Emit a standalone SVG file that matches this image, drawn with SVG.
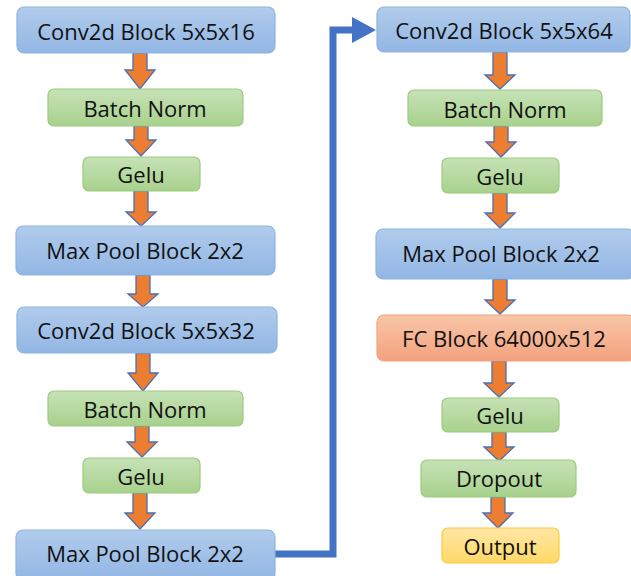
<svg xmlns="http://www.w3.org/2000/svg" width="631" height="576" viewBox="0 0 631 576">
<defs>
<linearGradient id="gBlue" x1="0" y1="0" x2="0" y2="1"><stop offset="0" stop-color="#B1CCEC"/><stop offset="1" stop-color="#92B6E4"/></linearGradient>
<linearGradient id="gGreen" x1="0" y1="0" x2="0" y2="1"><stop offset="0" stop-color="#C6E2B6"/><stop offset="1" stop-color="#A8D18D"/></linearGradient>
<linearGradient id="gSalmon" x1="0" y1="0" x2="0" y2="1"><stop offset="0" stop-color="#F8C6A8"/><stop offset="1" stop-color="#F3A27E"/></linearGradient>
<linearGradient id="gYellow" x1="0" y1="0" x2="0" y2="1"><stop offset="0" stop-color="#FFE7A6"/><stop offset="1" stop-color="#FFD966"/></linearGradient>
</defs>
<style>
.blue{fill:url(#gBlue);stroke:#8DB3E2;stroke-width:1.2}
.green{fill:url(#gGreen);stroke:#9CCB7D;stroke-width:1.2}
.salmon{fill:url(#gSalmon);stroke:#F2A47E;stroke-width:1.2}
.yellow{fill:url(#gYellow);stroke:#FFC83D;stroke-width:1.2}
text{font-family:"Open Sans","Noto Sans","DejaVu Sans",sans-serif;font-size:22px;fill:#111111;text-anchor:middle;dominant-baseline:central}
.arr{fill:#ED7D31;stroke:#4A6FB5;stroke-width:1.3;stroke-linejoin:miter}
</style>
<rect width="631" height="576" fill="#ffffff"/>
<g id="connectors">
<polygon class="arr" points="133,53 147,53 147,70 155,70 140,89 125,70 133,70"/>
<polygon class="arr" points="134,126 148,126 148,140 156,140 141,156 126,140 134,140"/>
<polygon class="arr" points="134,191 148,191 148,212 156,212 141,226 126,212 134,212"/>
<polygon class="arr" points="136,275 150,275 150,294 158,294 143,307 128,294 136,294"/>
<polygon class="arr" points="136,353 150,353 150,373 158,373 143,391 128,373 136,373"/>
<polygon class="arr" points="135,426 149,426 149,442 157,442 142,457 127,442 135,442"/>
<polygon class="arr" points="133,493 147,493 147,513 155,513 140,529 125,513 133,513"/>
<polygon class="arr" points="493,52 507,52 507,75 515,75 500,89 485,75 493,75"/>
<polygon class="arr" points="494,126 508,126 508,142 516,142 501,157 486,142 494,142"/>
<polygon class="arr" points="493,193 507,193 507,213 515,213 500,228 485,213 493,213"/>
<polygon class="arr" points="493,279 507,279 507,300 515,300 500,314 485,300 493,300"/>
<polygon class="arr" points="492,361 506,361 506,383 514,383 499,397 484,383 492,383"/>
<polygon class="arr" points="492,432 506,432 506,447 514,447 499,461 484,447 492,447"/>
<polygon class="arr" points="491,497 505,497 505,513 513,513 498,528 483,513 491,513"/>
<polyline points="275,554 333,554 333,30 354,30" fill="none" stroke="#4472C4" stroke-width="7" stroke-linejoin="miter"/>
<polygon points="352,17 376,30 352,43" fill="#4472C4"/>
</g>
<g id="n1"><rect class="blue" x="17" y="7" width="258" height="46" rx="7"/><text x="146" y="31">Conv2d Block 5x5x16</text></g>
<g id="n2"><rect class="green" x="48" y="89" width="195" height="37" rx="6"/><text x="145" y="108">Batch Norm</text></g>
<g id="n3"><rect class="green" x="83" y="157" width="117" height="34" rx="6"/><text x="141" y="174">Gelu</text></g>
<g id="n4"><rect class="blue" x="16" y="226" width="259" height="49" rx="7"/><text x="145" y="250">Max Pool Block 2x2</text></g>
<g id="n5"><rect class="blue" x="17" y="307" width="260" height="46" rx="7"/><text x="146" y="330">Conv2d Block 5x5x32</text></g>
<g id="n6"><rect class="green" x="48" y="391" width="195" height="35" rx="6"/><text x="145" y="409">Batch Norm</text></g>
<g id="n7"><rect class="green" x="83" y="458" width="117" height="35" rx="6"/><text x="141" y="476">Gelu</text></g>
<g id="n8"><rect class="blue" x="16" y="530" width="259" height="50" rx="7"/><text x="145" y="553">Max Pool Block 2x2</text></g>
<g id="n9"><rect class="blue" x="377" y="7" width="253" height="45" rx="7"/><text x="504" y="30">Conv2d Block 5x5x64</text></g>
<g id="n10"><rect class="green" x="408" y="90" width="194" height="36" rx="6"/><text x="505" y="109">Batch Norm</text></g>
<g id="n11"><rect class="green" x="442" y="158" width="117" height="35" rx="6"/><text x="500" y="176">Gelu</text></g>
<g id="n12"><rect class="blue" x="376" y="229" width="258" height="50" rx="7"/><text x="501" y="253">Max Pool Block 2x2</text></g>
<g id="n13"><rect class="salmon" x="377" y="315" width="258" height="46" rx="7"/><text x="504" y="338">FC Block 64000x512</text></g>
<g id="n14"><rect class="green" x="442" y="398" width="117" height="34" rx="6"/><text x="500" y="415">Gelu</text></g>
<g id="n15"><rect class="green" x="421" y="460" width="155" height="37" rx="6"/><text x="499" y="478">Dropout</text></g>
<g id="n16"><rect class="yellow" x="442" y="528" width="117" height="35" rx="6"/><text x="500" y="546">Output</text></g>
</svg>
